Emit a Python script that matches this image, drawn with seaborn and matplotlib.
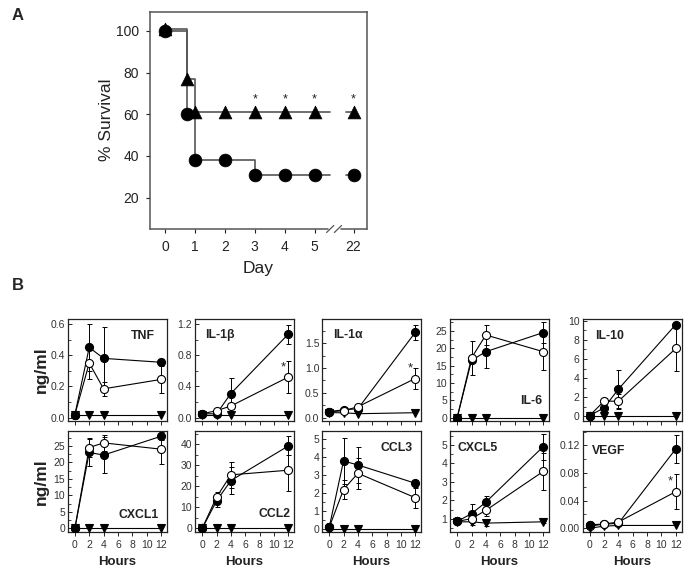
import matplotlib
matplotlib.use('Agg')
from matplotlib import pyplot as plt
from matplotlib.ticker import MultipleLocator, FormatStrFormatter
import seaborn as sns

## ---- panel A: survival data ----
day_labels = ['0', '1', '2', '3', '4', '5', '22']
day_pos = [0, 1, 2, 3, 4, 5, 6.3]          # day 22 sits after the axis break
surv_pos = [0, 0.75, 1, 2, 3, 4, 5, 6.3]
surv_circle = [100, 60, 38, 38, 31, 31, 31, 31]
surv_triangle = [101, 77, 61, 61, 61, 61, 61, 61]
star_days = [3, 4, 5, 6.3]

## ---- panel B: cytokines (ng/ml) ----
hours = [0, 2, 4, 12]

tnf_filled = [0.02, 0.45, 0.38, 0.355]
tnf_filled_err = [0, 0.15, 0.2, 0.02]
tnf_open = [0.02, 0.35, 0.185, 0.245]
tnf_open_err = [0, 0.1, 0.045, 0.085]
tnf_tri = [0.02, 0.02, 0.02, 0.02]

il1b_filled = [0.05, 0.05, 0.31, 1.07]
il1b_filled_err = [0, 0, 0.2, 0.12]
il1b_open = [0.05, 0.09, 0.15, 0.52]
il1b_open_err = [0, 0, 0.03, 0.2]
il1b_tri = [0.03, 0.03, 0.03, 0.03]

il1a_filled = [0.12, 0.16, 0.18, 1.72]
il1a_filled_err = [0.02, 0.03, 0.03, 0.15]
il1a_open = [0.12, 0.14, 0.22, 0.79]
il1a_open_err = [0, 0, 0.04, 0.22]
il1a_tri = [0.1, 0.1, 0.08, 0.1]

il6_filled = [0, 16.5, 19.0, 24.5]
il6_filled_err = [0, 0, 4.8, 3]
il6_open = [0, 17.2, 23.8, 19.0]
il6_open_err = [0, 5, 3, 5.2]
il6_tri = [0, 0, 0, 0]

il10_filled = [0.1, 0.9, 2.85, 9.6]
il10_filled_err = [0, 0, 2.0, 0.3]
il10_open = [0.1, 1.6, 1.6, 7.1]
il10_open_err = [0, 0.3, 0.8, 2.3]
il10_tri = [0, 0, 0, 0]

cxcl1_filled = [0, 23.0, 22.2, 27.9]
cxcl1_filled_err = [0, 4.2, 5.5, 1.2]
cxcl1_open = [0, 24.5, 25.9, 24.0]
cxcl1_open_err = [0, 3, 2.5, 4.4]
cxcl1_tri = [0, 0, 0, 0]

ccl2_filled = [0, 13.0, 22.7, 39.1]
ccl2_filled_err = [0, 3, 6.3, 4.5]
ccl2_open = [0, 14.8, 25.4, 27.6]
ccl2_open_err = [0, 2.5, 6, 10]
ccl2_tri = [0, 0, 0, 0]

ccl3_filled = [0.1, 3.78, 3.56, 2.55]
ccl3_filled_err = [0, 1.3, 1.0, 0.2]
ccl3_open = [0.1, 2.2, 3.1, 1.75]
ccl3_open_err = [0, 0.55, 0.85, 0.55]
ccl3_tri = [0, 0, 0, 0]

cxcl5_filled = [0.87, 1.29, 1.91, 4.91]
cxcl5_filled_err = [0, 0.5, 0.35, 0.7]
cxcl5_open = [0.87, 1.02, 1.47, 3.57]
cxcl5_open_err = [0, 0.33, 0.3, 1.0]
cxcl5_tri = [0.85, 0.85, 0.78, 0.85]
cxcl5_tri_err = [0, 0, 0.18, 0.05]

vegf_filled = [0.005, 0.006, 0.007, 0.115]
vegf_filled_err = [0, 0, 0, 0.02]
vegf_open = [0.003, 0.006, 0.009, 0.053]
vegf_open_err = [0, 0, 0, 0.025]
vegf_tri = [0.0, 0.003, 0.004, 0.004]

## panel settings: name, data, y range, tick step, label spot, star
panels = [
    dict(name='TNF', f=tnf_filled, fe=tnf_filled_err, o=tnf_open, oe=tnf_open_err, t=tnf_tri,
         ylim=(-0.021, 0.632), step=0.2, fmt='%.1f', lab=(0.88, 0.83, 'right')),
    dict(name='IL-1β', f=il1b_filled, fe=il1b_filled_err, o=il1b_open, oe=il1b_open_err, t=il1b_tri,
         ylim=(-0.042, 1.264), step=0.4, fmt='%.1f', lab=(0.10, 0.84, 'left'), star=(11.3, 0.64)),
    dict(name='IL-1α', f=il1a_filled, fe=il1a_filled_err, o=il1a_open, oe=il1a_open_err, t=il1a_tri,
         ylim=(-0.067, 1.99), step=0.5, fmt='%.1f', lab=(0.11, 0.84, 'left'), star=(11.3, 1.0)),
    dict(name='IL-6', f=il6_filled, fe=il6_filled_err, o=il6_open, oe=il6_open_err, t=il6_tri,
         ylim=(-0.95, 28.4), step=5, fmt='%d', lab=(0.93, 0.2, 'right')),
    dict(name='IL-10', f=il10_filled, fe=il10_filled_err, o=il10_open, oe=il10_open_err, t=il10_tri,
         ylim=(-0.47, 10.18), step=2, fmt='%d', lab=(0.13, 0.83, 'left')),
    dict(name='CXCL1', f=cxcl1_filled, fe=cxcl1_filled_err, o=cxcl1_open, oe=cxcl1_open_err, t=cxcl1_tri,
         ylim=(-1.1, 29.5), step=5, fmt='%d', lab=(0.915, 0.17, 'right')),
    dict(name='CCL2', f=ccl2_filled, fe=ccl2_filled_err, o=ccl2_open, oe=ccl2_open_err, t=ccl2_tri,
         ylim=(-1.7, 46.2), step=10, fmt='%d', lab=(0.96, 0.175, 'right')),
    dict(name='CCL3', f=ccl3_filled, fe=ccl3_filled_err, o=ccl3_open, oe=ccl3_open_err, t=ccl3_tri,
         ylim=(-0.15, 5.44), step=1, fmt='%d', lab=(0.92, 0.83, 'right')),
    dict(name='CXCL5', f=cxcl5_filled, fe=cxcl5_filled_err, o=cxcl5_open, oe=cxcl5_open_err, t=cxcl5_tri,
         te=cxcl5_tri_err, ylim=(0.3, 5.75), step=1, fmt='%d', lab=(0.08, 0.83, 'left')),
    dict(name='VEGF', f=vegf_filled, fe=vegf_filled_err, o=vegf_open, oe=vegf_open_err, t=vegf_tri,
         ylim=(-0.0055, 0.141), step=0.04, fmt='%.2f', lab=(0.10, 0.80, 'left'), star=(11.25, 0.068)),
]

sns.set_theme(style='ticks')
plt.rcParams['font.family'] = ['Liberation Sans', 'DejaVu Sans']

W, H = 687, 572
fig = plt.figure(figsize=(W / 100, H / 100), dpi=100)


def rect(l, t, r, b):  ## pixel box -> figure fraction
    return [l / W, 1 - b / H, (r - l) / W, (b - t) / H]


ink = '#222222'
grey = '#555555'

## ---------------- panel A ----------------
axA = fig.add_axes(rect(150, 12, 367, 229))
brk_lo, brk_hi = 5.5, 6.05
for vals in [surv_circle, surv_triangle]:
    xs = surv_pos[:-1] + [brk_lo]
    ys = vals[:-1] + [vals[-2]]
    sns.lineplot(x=xs, y=ys, ax=axA, drawstyle='steps-post', color=grey, linewidth=1.2,
                 sort=False, zorder=2)
    axA.plot([brk_hi, surv_pos[-1]], [vals[-1], vals[-1]], color=grey, lw=1.2, zorder=2)

sns.scatterplot(x=surv_pos, y=surv_circle, ax=axA, marker='o', s=85, color='black',
                edgecolor='black', linewidth=0.5, zorder=3)
sns.scatterplot(x=surv_pos, y=surv_triangle, ax=axA, marker='^', s=85, color='black',
                edgecolor='black', linewidth=0.5, zorder=4)
for d in star_days:
    axA.text(d, 67, '*', ha='center', va='center', fontsize=9, color=ink)

axA.set_xlim(-0.5, 6.75)
axA.set_ylim(5, 109)
axA.set_xticks(day_pos)
axA.set_xticklabels(day_labels)
axA.set_yticks([20, 40, 60, 80, 100])
axA.tick_params(axis='both', direction='out', length=3, width=0.8, pad=5,
                labelsize=10, colors=ink)
axA.set_xlabel('')
axA.set_ylabel('')
for sp in ['top', 'left', 'right']:
    axA.spines[sp].set_color(grey)
    axA.spines[sp].set_linewidth(1.1)
axA.spines['bottom'].set_visible(False)
tr = axA.get_xaxis_transform()
axA.plot([-0.5, 5.45], [0, 0], transform=tr, color=grey, lw=1.1, clip_on=False)
axA.plot([5.88, 6.75], [0, 0], transform=tr, color=grey, lw=1.1, clip_on=False)
for bx in [5.52, 5.78]:
    axA.plot([bx - 0.12, bx + 0.12], [-0.016, 0.016], transform=tr, color=grey, lw=0.9,
             clip_on=False)

fig.text(106.7 / W, 1 - 120 / H, '% Survival', rotation=90, ha='center', va='center',
         fontsize=12.5, color=ink)
fig.text(258 / W, 1 - 268 / H, 'Day', ha='center', va='center', fontsize=12.5, color=ink)

fig.text(12 / W, 1 - 16 / H, 'A', ha='left', va='center', fontsize=12, fontweight='bold')
fig.text(12 / W, 1 - 286 / H, 'B', ha='left', va='center', fontsize=12, fontweight='bold')

## ---------------- panel B ----------------
col_left = [67.7, 195, 322, 450, 582.5]
rows = [(319, 421), (431, 532)]
mk = dict(markeredgecolor='black', markeredgewidth=0.8)

for i, p in enumerate(panels):
    r, c = divmod(i, 5)
    top, bot = rows[r]
    ax = fig.add_axes(rect(col_left[c], top, col_left[c] + 99, bot))

    ## error bars under the markers
    for vals, errs in [(p['f'], p['fe']), (p['o'], p['oe']), (p['t'], p.get('te'))]:
        if errs is None:
            continue
        idx = [k for k, e in enumerate(errs) if e > 0]
        ax.errorbar([hours[k] for k in idx], [vals[k] for k in idx],
                    yerr=[errs[k] for k in idx], fmt='none', ecolor='black',
                    elinewidth=0.7, capsize=1.8, capthick=0.7, zorder=2)

    sns.lineplot(x=hours, y=p['t'], ax=ax, color='black', linewidth=0.8, marker='v',
                 markersize=6.2, markerfacecolor='black', zorder=3, **mk)
    sns.lineplot(x=hours, y=p['f'], ax=ax, color='black', linewidth=0.8, marker='o',
                 markersize=5.8, markerfacecolor='black', zorder=4, **mk)
    sns.lineplot(x=hours, y=p['o'], ax=ax, color='black', linewidth=0.8, marker='o',
                 markersize=5.8, markerfacecolor='white', zorder=5, **mk)
    ## baseline (0 h) filled point sits on top, as in the original
    ax.plot(hours[:1], p['f'][:1], linestyle='none', marker='o', markersize=5.8,
            markerfacecolor='black', zorder=6, **mk)

    if 'star' in p:
        ax.text(p['star'][0], p['star'][1], '*', ha='center', va='center', fontsize=9.5,
                color=ink, zorder=7)

    lx, ly, ha = p['lab']
    ax.text(lx, ly, p['name'], transform=ax.transAxes, ha=ha, va='center', fontsize=8.8,
            fontweight='bold', color=ink)

    ax.set_xlim(-1, 12.8)
    ax.set_ylim(*p['ylim'])
    ax.set_xticks([0, 2, 4, 6, 8, 10, 12])
    ax.yaxis.set_major_locator(MultipleLocator(p['step']))
    ax.yaxis.set_minor_locator(MultipleLocator(p['step'] / 2))
    ax.yaxis.set_major_formatter(FormatStrFormatter(p['fmt']))
    ax.tick_params(axis='y', which='major', direction='in', length=3, width=0.7, pad=2,
                   labelsize=7.5, labelcolor='#333333')
    ax.tick_params(axis='y', which='minor', direction='in', length=2, width=0.6)
    ax.tick_params(axis='x', direction='out', length=3, width=0.7, pad=3,
                   labelsize=7.5, labelcolor='#333333')
    if r == 0:
        ax.set_xticklabels([])
    ax.set_xlabel('')
    ax.set_ylabel('')
    for sp in ax.spines.values():
        sp.set_color(ink)
        sp.set_linewidth(0.9)

    if r == 1:
        fig.text((col_left[c] + 49.5) / W, 1 - 562 / H, 'Hours', ha='center', va='center',
                 fontsize=9.5, fontweight='bold', color=ink)

for top, bot in rows:
    fig.text(41.5 / W, 1 - (top + bot) / 2 / H, 'ng/ml', rotation=90, ha='center',
             va='center', fontsize=12.5, fontweight='bold', color=ink)

plt.savefig('out.png', dpi=100)
